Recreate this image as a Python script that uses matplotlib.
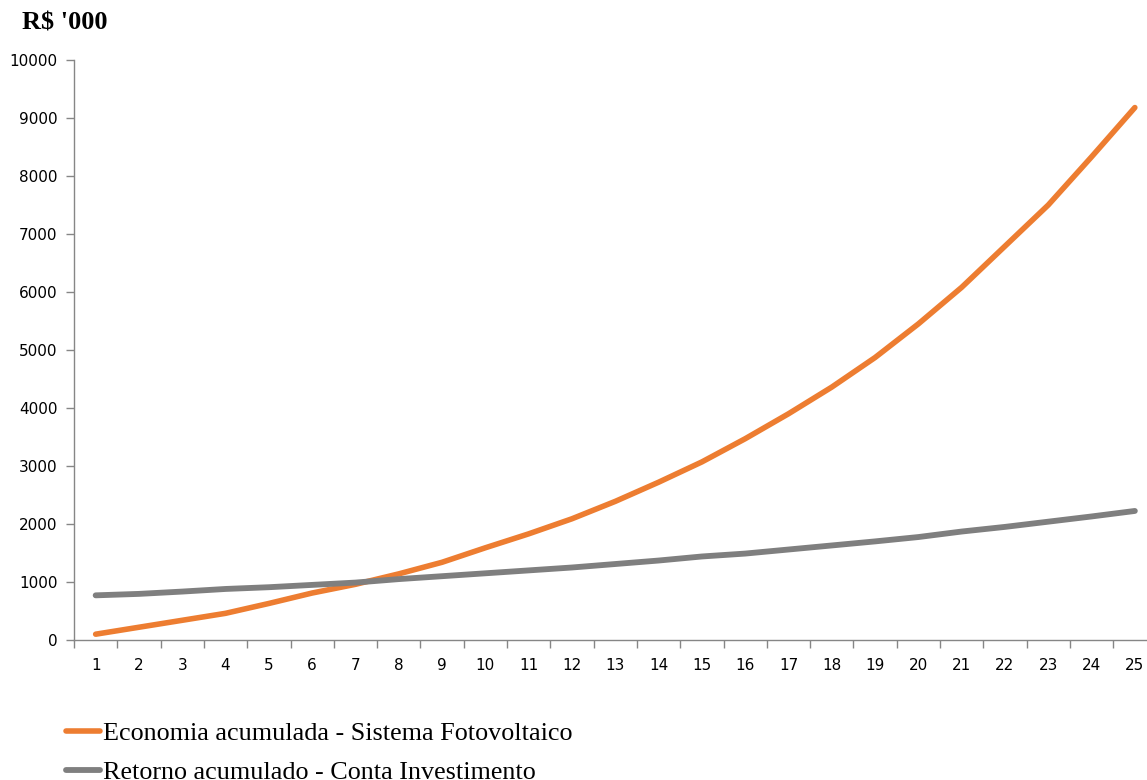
import matplotlib
matplotlib.use("Agg")
import matplotlib.pyplot as plt
from matplotlib.ticker import FixedLocator, MultipleLocator

years = list(range(1, 26))
economia = [100, 220, 340, 460, 630, 810, 960, 1140, 1340, 1590, 1830, 2090, 2390, 2720,
            3070, 3470, 3900, 4360, 4870, 5450, 6080, 6790, 7500, 8330, 9180]
retorno = [770, 795, 835, 880, 910, 950, 990, 1050, 1100, 1150, 1200, 1250, 1310, 1370,
           1440, 1490, 1560, 1630, 1700, 1775, 1870, 1950, 2040, 2130, 2225]
labels = ["Economia acumulada - Sistema Fotovoltaico", "Retorno acumulado - Conta Investimento"]
colors = ["#ED7D31", "#7F7F7F"]
title = "R$ '000"

W, H = 1147, 780
fig = plt.figure(figsize=(W / 100, H / 100), dpi=100)
ax_left = 74 / W
ax_right = (74 + 25 * 43.3) / W
ax_bottom = (H - 640) / H
ax_top = (H - 60) / H
ax = fig.add_axes([ax_left, ax_bottom, ax_right - ax_left, ax_top - ax_bottom])

l1, = ax.plot(years, economia, color=colors[0], lw=4.0, solid_capstyle="round")
l2, = ax.plot(years, retorno, color=colors[1], lw=4.2, solid_capstyle="round")

ax.set_xlim(0.5, 25.5)
ax.set_ylim(0, 10000)
ax.yaxis.set_major_locator(MultipleLocator(1000))
ax.xaxis.set_major_locator(FixedLocator(years))
ax.set_xticklabels([str(y) for y in years])
ax.xaxis.set_minor_locator(FixedLocator([y + 0.5 for y in range(0, 26)]))

for s in ["top", "right"]:
    ax.spines[s].set_visible(False)
for s in ["left", "bottom"]:
    ax.spines[s].set_color("#868686")
    ax.spines[s].set_linewidth(1.0)

ax.tick_params(axis="y", which="major", length=6, width=1, color="#868686",
               labelsize=11, pad=6)
ax.tick_params(axis="x", which="major", length=0, labelsize=11, pad=13)
ax.tick_params(axis="x", which="minor", length=6, width=1, color="#868686")
for lab in ax.get_xticklabels() + ax.get_yticklabels():
    lab.set_fontfamily("DejaVu Sans")

fig.text(22 / W, 1 - 23 / H, title, fontfamily="Liberation Serif", fontweight="bold",
         fontsize=19, ha="left", va="center")

fig.legend([l1, l2], labels, loc="upper left", bbox_to_anchor=(66 / W, 1 - 722 / H),
           frameon=False, prop={"family": "Liberation Serif", "size": 18.8},
           handlelength=1.3, handletextpad=0.12, labelspacing=0.6,
           borderpad=0, borderaxespad=0)

fig.savefig("out.png", dpi=100)
